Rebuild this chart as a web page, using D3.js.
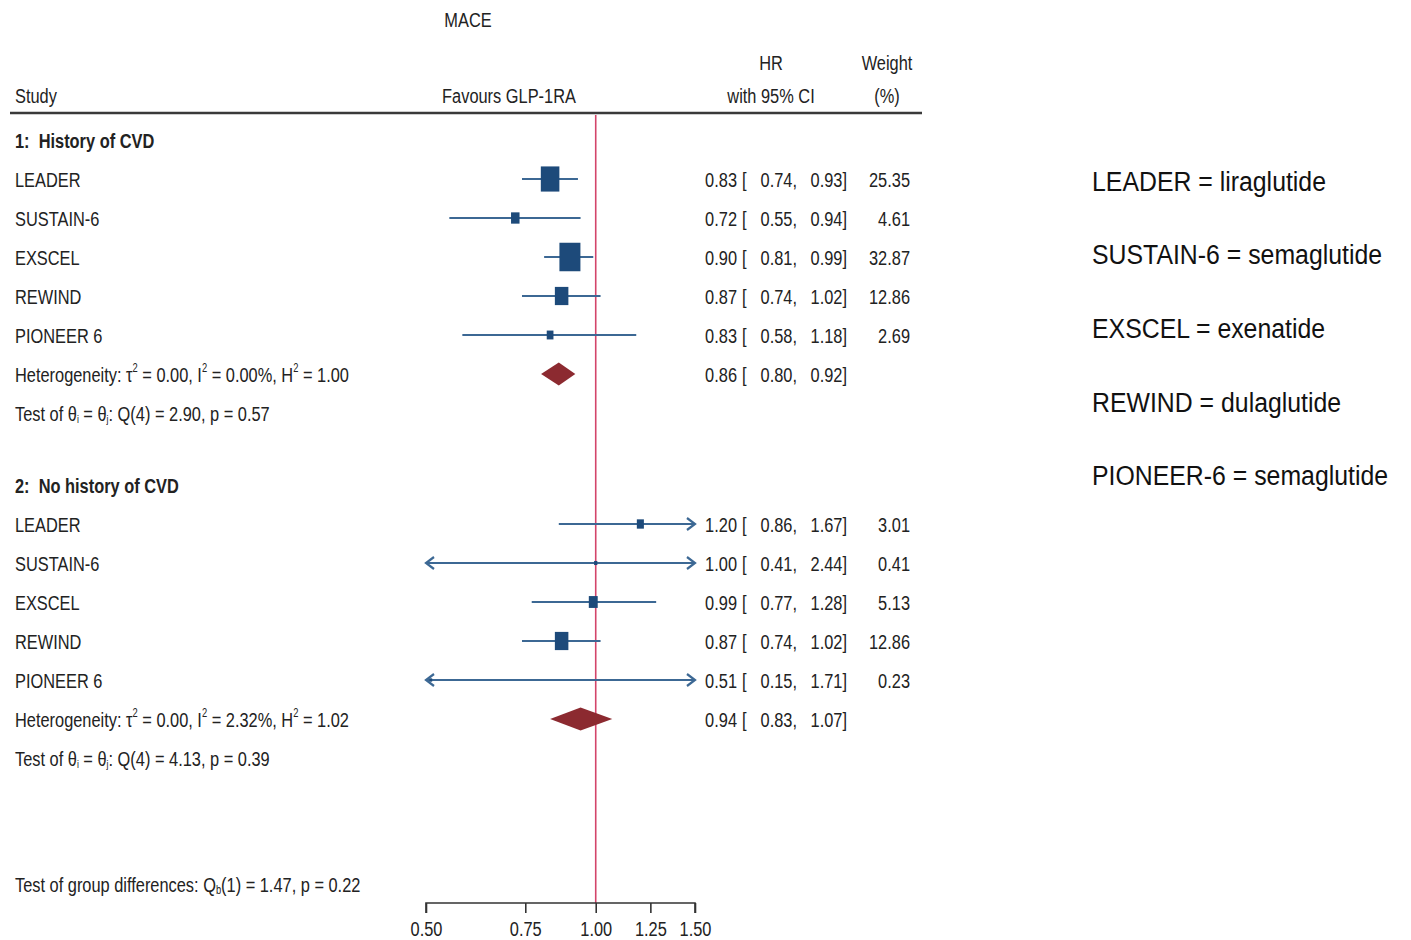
<!DOCTYPE html>
<html>
<head>
<meta charset="utf-8">
<script src="https://cdn.jsdelivr.net/npm/d3@7"></script>
<style>
  body { margin: 0; background: white; }
  text { font-family: "Liberation Sans", Arial, sans-serif; fill: #222; white-space: pre; }
</style>
</head>
<body>
<main></main>
<script>
// studies, same order in both subgroups
const studies = ["LEADER", "SUSTAIN-6", "EXSCEL", "REWIND", "PIONEER 6"]

// 1: history of CVD
const hr1 = [0.83, 0.72, 0.90, 0.87, 0.83]
const lo1 = [0.74, 0.55, 0.81, 0.74, 0.58]
const hi1 = [0.93, 0.94, 0.99, 1.02, 1.18]
const wt1 = [25.35, 4.61, 32.87, 12.86, 2.69]
const pooled1 = [0.86, 0.80, 0.92]

// 2: no history of CVD
const hr2 = [1.20, 1.00, 0.99, 0.87, 0.51]
const lo2 = [0.86, 0.41, 0.77, 0.74, 0.15]
const hi2 = [1.67, 2.44, 1.28, 1.02, 1.71]
const wt2 = [3.01, 0.41, 5.13, 12.86, 0.23]
const pooled2 = [0.94, 0.83, 1.07]

const axisTicks = [0.50, 0.75, 1.00, 1.25, 1.50]

const drugNames = ["LEADER = liraglutide", "SUSTAIN-6 = semaglutide", "EXSCEL = exenatide",
  "REWIND = dulaglutide", "PIONEER-6 = semaglutide"]

//dimensions
const svgWidth = 1411
const svgHeight = 940
const rowStep = 39
const sx = 0.78   // the stata output is squeezed horizontally
const fontSize = 21

const blue = "#1d4a7a"
const ciBlue = "#3c6894"
const diamondRed = "#8c2a30"
const refRed = "#d3456a"

let svg = d3.select("main")
    .append("svg")
    .attr("width", svgWidth)
    .attr("height", svgHeight)

let xScale = d3.scaleLog()
    .domain([0.5, 1.5])
    .range([426, 695])

let boxW = d3.scaleSqrt().domain([0, 32.87]).range([0, 20])
let boxH = d3.scaleSqrt().domain([0, 32.87]).range([0, 27.5])

function label(x, y, str, anchor, weight) {
  return svg.append("text")
    .attr("transform", `translate(${x}, ${y + 7.5}) scale(${sx}, 1)`)
    .attr("text-anchor", anchor || "start")
    .style("font-size", fontSize + "px")
    .style("font-weight", weight || "normal")
    .text(str)
}

//header
label(468, 19, "MACE", "middle")
label(771, 62, "HR", "middle")
label(887, 62, "Weight", "middle")
label(15, 95, "Study", "start")
label(509, 95, "Favours GLP-1RA", "middle")
label(771, 95, "with 95% CI", "middle")
label(887, 95, "(%)", "middle")

svg.append("line")
    .attr("x1", 10).attr("x2", 922)
    .attr("y1", 113).attr("y2", 113)
    .style("stroke", "#3a3a3a")
    .style("stroke-width", 2.5)

//reference line at HR = 1
svg.append("line")
    .attr("x1", xScale(1)).attr("x2", xScale(1))
    .attr("y1", 115).attr("y2", 903)
    .style("stroke", refRed)
    .style("stroke-width", 1.6)

function fmt(v) { return d3.format(".2f")(v) }

function hrText(y, hr, lo, hi) {
  label(737, y, fmt(hr), "end")
  label(742, y, "[", "start")
  label(797, y, fmt(lo) + ",", "end")
  label(847, y, fmt(hi) + "]", "end")
}

function arrow(x, y, dir) {
  svg.append("path")
    .attr("d", `M${x - dir * 8},${y - 6} L${x},${y} L${x - dir * 8},${y + 6}`)
    .style("fill", "none")
    .style("stroke", ciBlue)
    .style("stroke-width", 2.2)
}

function drawGroup(top, title, hr, lo, hi, wt, pooled, het, test) {
  label(15, top, title, "start", "bold")
  let rows = studies.map((s, i) => ({ name: s, hr: hr[i], lo: lo[i], hi: hi[i], wt: wt[i], y: top + rowStep * (i + 1) }))

  rows.forEach(d => {
    label(15, d.y, d.name, "start")
    hrText(d.y, d.hr, d.lo, d.hi)
    label(910, d.y, fmt(d.wt), "end")

    let x1 = xScale(Math.max(d.lo, 0.5))
    let x2 = xScale(Math.min(d.hi, 1.5))
    svg.append("line")
      .attr("x1", x1).attr("x2", x2)
      .attr("y1", d.y).attr("y2", d.y)
      .style("stroke", ciBlue)
      .style("stroke-width", 2.2)
    if (d.lo < 0.5) arrow(x1, d.y, -1)
    if (d.hi > 1.5) arrow(x2, d.y, 1)
  })

  svg.append("g")
    .selectAll("rect")
    .data(rows)
    .enter()
    .append("rect")
    .attr("x", d => xScale(d.hr) - boxW(d.wt) / 2 - 0.5)
    .attr("y", d => d.y - boxH(d.wt) / 2 - 0.5)
    .attr("width", d => boxW(d.wt) + 1)
    .attr("height", d => boxH(d.wt) + 1)
    .style("fill", blue)

  let yd = top + rowStep * 6
  svg.append("path")
    .attr("d", `M${xScale(pooled[1])},${yd} L${xScale(pooled[0])},${yd - 11.5} L${xScale(pooled[2])},${yd} L${xScale(pooled[0])},${yd + 11.5} Z`)
    .style("fill", diamondRed)
  hrText(yd, pooled[0], pooled[1], pooled[2])

  //heterogeneity line with superscripts
  let t = label(15, yd, "", "start")
  t.append("tspan").text("Heterogeneity: τ")
  t.append("tspan").attr("dy", -10).style("font-size", "12px").text("2")
  t.append("tspan").attr("dy", 10).text(" = " + het[0] + ", I")
  t.append("tspan").attr("dy", -10).style("font-size", "12px").text("2")
  t.append("tspan").attr("dy", 10).text(" = " + het[1] + ", H")
  t.append("tspan").attr("dy", -10).style("font-size", "12px").text("2")
  t.append("tspan").attr("dy", 10).text(" = " + het[2])

  let q = label(15, yd + rowStep, "", "start")
  q.append("tspan").text("Test of θ")
  q.append("tspan").attr("dy", 2).style("font-size", "11px").text("i")
  q.append("tspan").attr("dy", -2).text(" = θ")
  q.append("tspan").attr("dy", 2).style("font-size", "11px").text("j")
  q.append("tspan").attr("dy", -2).text(": " + test)
}

drawGroup(140, "1:  History of CVD", hr1, lo1, hi1, wt1, pooled1,
  ["0.00", "0.00%", "1.00"], "Q(4) = 2.90, p = 0.57")
drawGroup(485, "2:  No history of CVD", hr2, lo2, hi2, wt2, pooled2,
  ["0.00", "2.32%", "1.02"], "Q(4) = 4.13, p = 0.39")

let g = label(15, 884, "", "start")
g.append("tspan").text("Test of group differences: Q")
g.append("tspan").attr("dy", 2).style("font-size", "12px").text("b")
g.append("tspan").attr("dy", -2).text("(1) = 1.47, p = 0.22")

//x axis
let bottomAxis = d3.axisBottom(xScale)
    .tickValues(axisTicks)
    .tickFormat(d3.format(".2f"))
    .tickSize(10)
    .tickSizeOuter(10)

let xAxis = svg.append("g")
    .attr("transform", "translate(0, 903)")
    .call(bottomAxis)

xAxis.select(".domain")
    .attr("d", `M${xScale(0.5)},10V0H${xScale(1.5)}V10`)
    .style("stroke", "#333")
    .style("stroke-width", 1.6)
xAxis.selectAll("line")
    .style("stroke", "#333")
    .style("stroke-width", 1.6)
xAxis.selectAll("text")
    .attr("y", 18)
    .attr("transform", `scale(${sx}, 1)`)
    .style("font-size", fontSize + "px")
    .style("fill", "#222")

//drug names on the right
svg.selectAll("drugs")
  .data(drugNames)
  .enter()
  .append("text")
    .attr("transform", (d, i) => `translate(1092, ${181 + i * 73.7 + 9.5}) scale(0.92, 1)`)
    .style("font-size", "27px")
    .style("fill", "#111")
    .text(d => d)
</script>
</body>
</html>
